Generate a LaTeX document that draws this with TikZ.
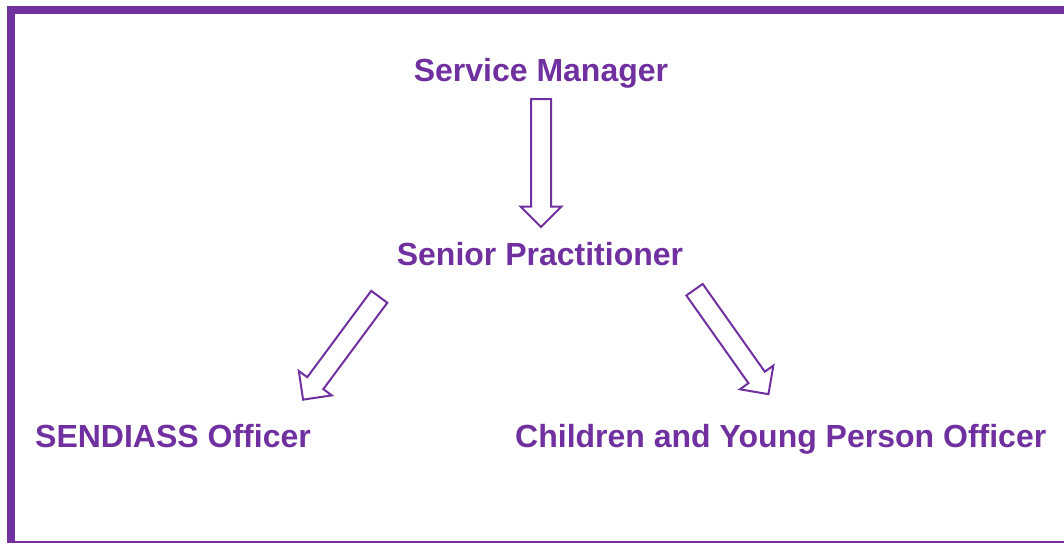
\documentclass[tikz,border=0pt]{standalone}
\usepackage{fontspec}
\setmainfont{Liberation Sans}
\usetikzlibrary{shapes.arrows}
\definecolor{sendpurple}{RGB}{112,48,160}
\tikzstyle{role} = [text=sendpurple, font=\bfseries\fontsize{32}{38}\selectfont,
    inner sep=0pt, anchor=base]
\tikzstyle{fatarrow} = [single arrow, draw=sendpurple, line width=2pt, fill=white,
    inner sep=9pt, single arrow head extend=10.5pt, minimum height=128pt,
    sloped, allow upside down]

\begin{document}
\begin{tikzpicture}[x=1pt,y=-1pt,line join=miter]
  \useasboundingbox (0,0) rectangle (1064,542);
  \clip (0,0) rectangle (1064,542);

  % frame
  \draw[sendpurple, line width=8pt] (11,10) rectangle (1074,545);

  \node[role]                (sm)  at (541,81)    {Service Manager};
  \node[role]                (sp)  at (540,265)   {Senior Practitioner};
  \node[role, anchor=base west] (so)  at (35,447)  {SENDIASS Officer};
  \node[role, anchor=base west] (cyp) at (515,447) {Children and Young Person Officer};

  % ends of the block arrows
  \coordinate (sm-out)  at (541,93);
  \coordinate (sp-in)   at (541,223);
  \coordinate (sp-left) at (382.6,292.3);
  \coordinate (so-in)   at (305.7,396.1);
  \coordinate (sp-right) at (691.2,285);
  \coordinate (cyp-in)  at (766,390.7);

  \path (sm-out)   -- (sp-in)  node[midway,fatarrow] {}
        (sp-left)  -- (so-in)  node[midway,fatarrow] {}
        (sp-right) -- (cyp-in) node[midway,fatarrow] {};
\end{tikzpicture}
\end{document}
